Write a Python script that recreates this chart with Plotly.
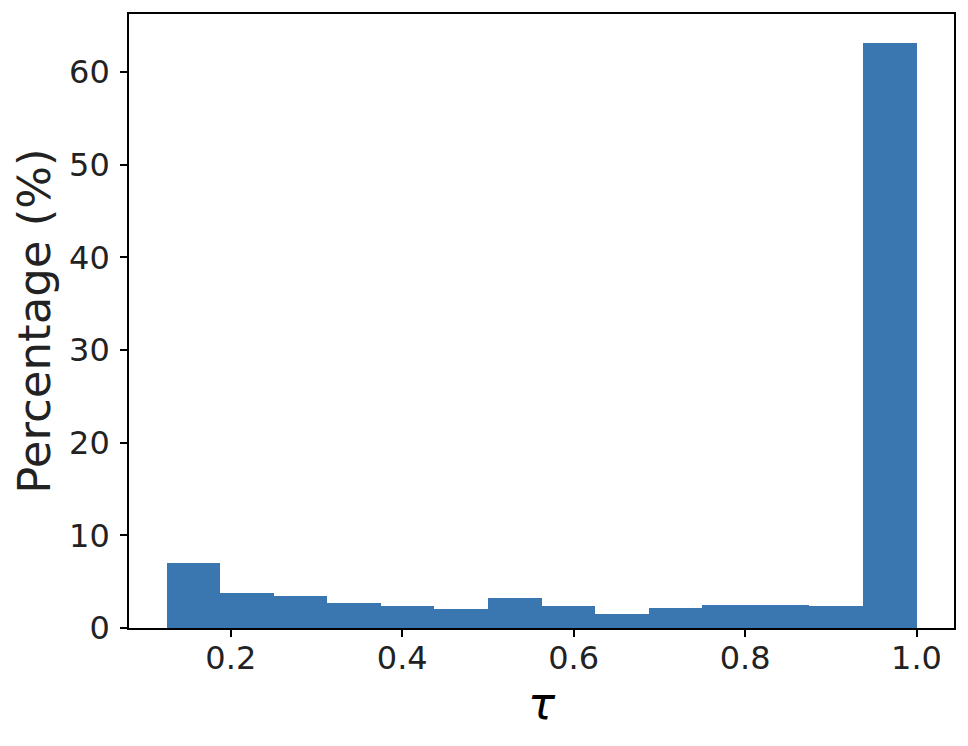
import plotly.graph_objects as go

# histogram of tau: 14 bins of width 0.0625 between 0.125 and 1.0
bin_edges = [0.125, 0.1875, 0.25, 0.3125, 0.375, 0.4375, 0.5, 0.5625,
             0.625, 0.6875, 0.75, 0.8125, 0.875, 0.9375, 1.0]
percentages = [7.0, 3.8, 3.4, 2.7, 2.35, 2.0, 3.2, 2.35,
               1.5, 2.15, 2.5, 2.5, 2.35, 63.1]
x_ticks = [0.2, 0.4, 0.6, 0.8, 1.0]
y_ticks = [0, 10, 20, 30, 40, 50, 60]

BAR_COLOR = "#3a76b0"
FONT = "DejaVu Sans"

centers = [(a + b) / 2 for a, b in zip(bin_edges[:-1], bin_edges[1:])]
widths = [b - a for a, b in zip(bin_edges[:-1], bin_edges[1:])]

fig = go.Figure(go.Bar(
    x=centers, y=percentages, width=widths,
    marker=dict(color=BAR_COLOR, line=dict(width=0)),
    showlegend=False,
))

span = bin_edges[-1] - bin_edges[0]
axis_common = dict(
    showline=True, linecolor="black", linewidth=1.6, mirror=True,
    ticks="outside", ticklen=7, tickwidth=1.6, tickcolor="black",
    showgrid=False, zeroline=False,
    tickfont=dict(family=FONT, size=32, color="#222222"),
)

# page body adds an 8px offset, so the figure is sized to sit inside the window
fig.update_layout(
    width=952, height=730,
    plot_bgcolor="white", paper_bgcolor="white",
    margin=dict(l=121, r=4, t=4, b=110),
    bargap=0,
    xaxis=dict(
        range=[bin_edges[0] - 0.05 * span, bin_edges[-1] + 0.05 * span],
        tickvals=x_ticks, ticktext=[f"{v:.1f}" for v in x_ticks],
        ticklabelstandoff=-6,
        title=dict(text="<i>τ</i>", font=dict(family=FONT, size=45, color="black"),
                   standoff=6),
        **axis_common,
    ),
    yaxis=dict(
        range=[0, max(percentages) * 1.05],
        tickvals=y_ticks,
        ticklabelstandoff=4,
        title=dict(text="Percentage (%)", font=dict(family=FONT, size=45, color="#222222"),
                   standoff=12),
        **axis_common,
    ),
)

fig.write_html("out.html")
